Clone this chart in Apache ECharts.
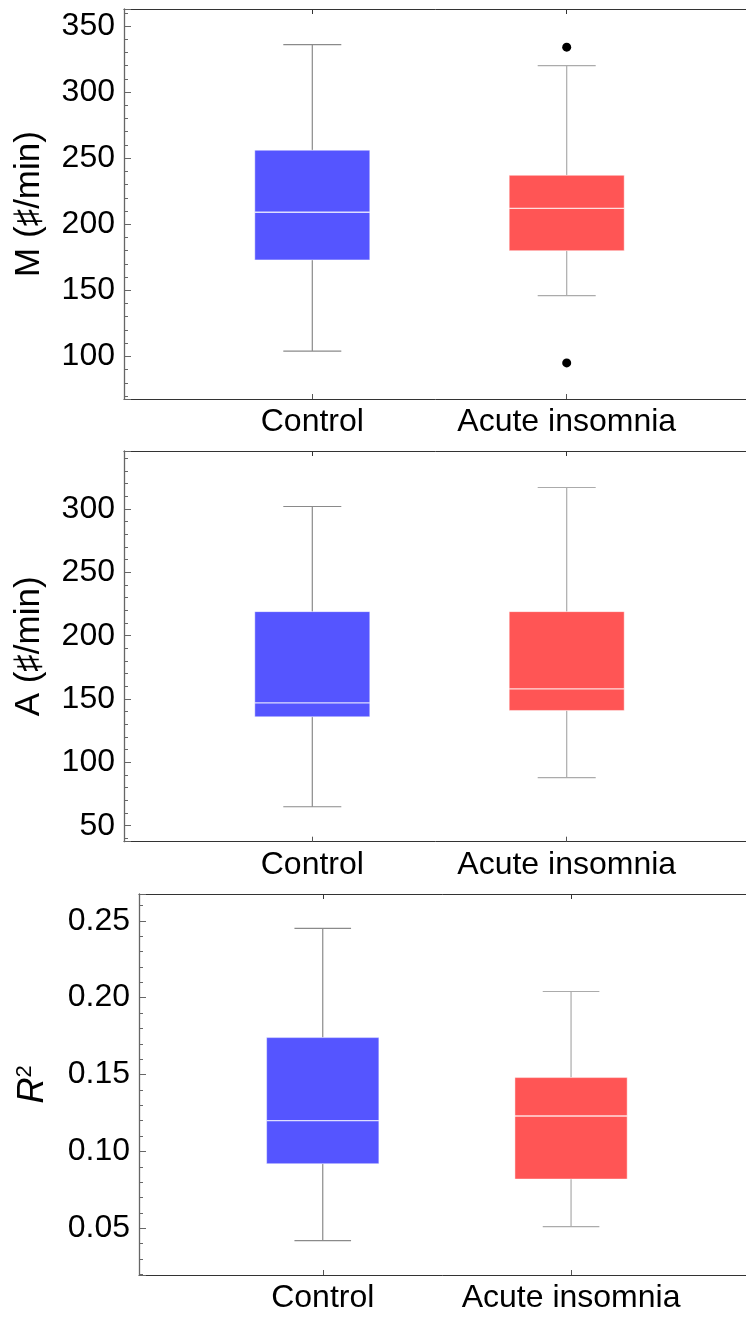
<!DOCTYPE html>
<html>
<head>
<meta charset="utf-8">
<script src="https://cdn.jsdelivr.net/npm/echarts@6/dist/echarts.min.js"></script>
<style>
  * { margin: 0; padding: 0; }
  body { background: #fff; }
  #chart { width: 746px; height: 1317px; }
</style>
</head>
<body>
<div id="chart"></div>
<script>
    // 分组
    const groups = ['Control', 'Acute insomnia'];
    // 箱线数据: [min, Q1, median, Q3, max]
    const mControl = [104, 173, 209, 256, 336];
    const mInsomnia = [146, 180, 212, 237, 320];
    const mOutliers = [334, 95];          // Acute insomnia 的离群点
    const aControl = [65, 136, 147, 219, 302];
    const aInsomnia = [88, 141, 158, 219, 317];
    const r2Control = [0.042, 0.092, 0.120, 0.174, 0.245];
    const r2Insomnia = [0.051, 0.082, 0.123, 0.148, 0.204];
    // 刻度标签
    const mTicks = [100, 150, 200, 250, 300, 350];
    const aTicks = [50, 100, 150, 200, 250, 300];
    const r2Ticks = [0.05, 0.10, 0.15, 0.20, 0.25];

    const colors = ['#5555ff', '#ff5555'];
    const whiskerColors = ['#8a8a8a', '#ababab'];
    const font = '"Liberation Sans", Arial, sans-serif';

    // 面板布局
    const panels = [
        { top: 9, height: 390, left: 124, width: 631, boxLeft: 185.1, boxWidth: 508.8,
          min: 67.7, max: 362.9, ticks: mTicks, digits: 0, nameGap: 77,
          name: 'M (♯/min)', boxes: [mControl, mInsomnia], outliers: mOutliers },
        { top: 451, height: 390.7, left: 124, width: 631, boxLeft: 185.1, boxWidth: 508.8,
          min: 37.4, max: 345.8, ticks: aTicks, digits: 0, nameGap: 77,
          name: 'A (♯/min)', boxes: [aControl, aInsomnia], outliers: [] },
        { top: 894, height: 381, left: 139, width: 616, boxLeft: 198.6, boxWidth: 496.6,
          min: 0.0196, max: 0.2674, ticks: r2Ticks, digits: 2, nameGap: 87,
          name: '{i|R}{s|2}', boxes: [r2Control, r2Insomnia], outliers: [] }
    ];

    function renderBox(params, api) {
        const x = api.value(0);
        const lo = api.coord([x, api.value(1)]);
        const q1 = api.coord([x, api.value(2)]);
        const med = api.coord([x, api.value(3)]);
        const q3 = api.coord([x, api.value(4)]);
        const hi = api.coord([x, api.value(5)]);
        const band = api.size([1, 0])[0];
        const bw = band * 0.452;   // 箱宽
        const cw = band * 0.228;   // 须端宽
        const cx = lo[0];
        const wc = whiskerColors[params.dataIndex];
        const ws = { stroke: wc, lineWidth: 1.2 };
        return {
            type: 'group',
            children: [
                { type: 'line', shape: { x1: cx, y1: lo[1], x2: cx, y2: q1[1] }, style: ws },
                { type: 'line', shape: { x1: cx, y1: q3[1], x2: cx, y2: hi[1] }, style: ws },
                { type: 'line', shape: { x1: cx - cw / 2, y1: lo[1], x2: cx + cw / 2, y2: lo[1] }, style: ws },
                { type: 'line', shape: { x1: cx - cw / 2, y1: hi[1], x2: cx + cw / 2, y2: hi[1] }, style: ws },
                { type: 'rect', shape: { x: cx - bw / 2, y: q3[1], width: bw, height: q1[1] - q3[1] },
                  style: { fill: colors[params.dataIndex], stroke: 'rgba(255,255,255,0.45)', lineWidth: 1 } },
                { type: 'line', shape: { x1: cx - bw / 2, y1: med[1], x2: cx + bw / 2, y2: med[1] },
                  style: { stroke: 'rgba(255,255,255,0.8)', lineWidth: 1.4 } }
            ]
        };
    }

    // 外框上下边线
    function frameAxis(gridIndex, position) {
        return {
            type: 'value', gridIndex: gridIndex, position: position, min: 0, max: 1,
            axisLine: { show: true, onZero: false, lineStyle: { color: '#333', width: 1 } },
            axisTick: { show: false }, axisLabel: { show: false }, splitLine: { show: false }
        };
    }

    const grid = [], xAxis = [], yAxis = [], series = [];
    panels.forEach(function (p, i) {
        // 外框
        grid.push({ left: p.left, top: p.top, width: p.width, height: p.height, outerBoundsMode: 'none' });
        // 箱线图区域
        grid.push({ left: p.boxLeft, top: p.top, width: p.boxWidth, height: p.height, outerBoundsMode: 'none' });
        const fg = 2 * i, bg = 2 * i + 1;

        xAxis.push(frameAxis(fg, 'bottom'));
        xAxis.push(frameAxis(fg, 'top'));
        xAxis.push({
            type: 'category', gridIndex: bg, data: groups, position: 'bottom',
            axisLine: { show: false },
            axisTick: { show: true, inside: true, alignWithLabel: true, length: 5, lineStyle: { color: '#555' } },
            axisLabel: { color: '#000', fontSize: 32, fontFamily: font, margin: 7, interval: 0, hideOverlap: false }
        });
        xAxis.push({
            type: 'category', gridIndex: bg, data: groups, position: 'top',
            axisLine: { show: false },
            axisTick: { show: true, inside: true, alignWithLabel: true, length: 5, lineStyle: { color: '#333' } },
            axisLabel: { show: false }
        });

        yAxis.push({
            type: 'value', gridIndex: fg, min: p.min, max: p.max, splitNumber: 5,
            name: p.name, nameLocation: 'middle', nameGap: p.nameGap,
            nameTextStyle: {
                color: '#000', fontSize: 35, fontFamily: font,
                rich: {
                    i: { fontSize: 36, fontStyle: 'italic', fontFamily: font, color: '#000' },
                    s: { fontSize: 22, fontFamily: font, color: '#000', verticalAlign: 'top', padding: [0, 0, 16, 0] }
                }
            },
            axisLine: { show: true, onZero: false, lineStyle: { color: '#666', width: 1.3 } },
            axisTick: { show: true, inside: true, length: 7, lineStyle: { color: '#666' } },
            minorTick: { show: true, splitNumber: 5, length: 4, lineStyle: { color: '#666' } },
            splitLine: { show: false },
            axisLabel: {
                color: '#000', fontSize: 32, fontFamily: font, margin: 9,
                formatter: function (v) {
                    const hit = p.ticks.find(function (t) { return Math.abs(t - v) < 1e-9; });
                    return hit === undefined ? '' : hit.toFixed(p.digits);
                }
            }
        });
        yAxis.push({ type: 'value', gridIndex: bg, min: p.min, max: p.max, show: false });

        const bx = xAxis.length - 2, by = yAxis.length - 1;
        series.push({
            type: 'custom', xAxisIndex: bx, yAxisIndex: by,
            renderItem: renderBox,
            encode: { x: 0, y: [1, 2, 3, 4, 5] },
            data: p.boxes.map(function (b, k) { return [k].concat(b); }),
            silent: true
        });
        if (p.outliers.length) {
            series.push({
                type: 'scatter', xAxisIndex: bx, yAxisIndex: by,
                symbolSize: 9, itemStyle: { color: '#000', opacity: 1 },
                data: p.outliers.map(function (v) { return [1, v]; }),
                silent: true
            });
        }
    });

    const myChart = echarts.init(document.getElementById('chart'));
    myChart.setOption({ animation: false, grid: grid, xAxis: xAxis, yAxis: yAxis, series: series });
</script>
</body>
</html>
